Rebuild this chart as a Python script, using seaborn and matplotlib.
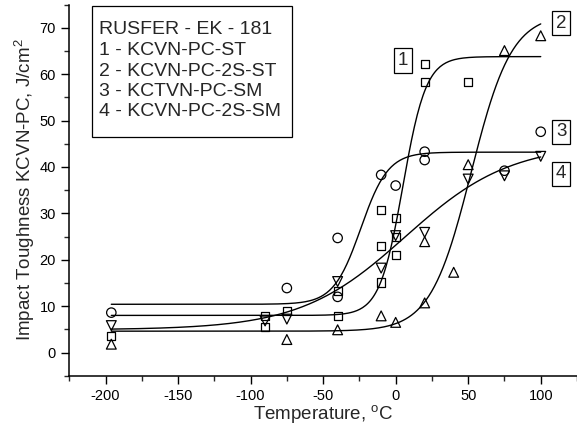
import numpy as np
import pandas as pd
import matplotlib
matplotlib.use("Agg")
import matplotlib.pyplot as plt
from matplotlib.ticker import MultipleLocator
from matplotlib.patches import Rectangle
import seaborn as sns

# measured points, temperature in C, toughness in J/cm2
t_st = [-196, -90, -90, -75, -40, -40, -10, -10, -10, 0, 0, 0, 20, 20, 50]
v_st = [3.6, 7.8, 5.5, 9.0, 7.9, 13.2, 30.8, 23.0, 15.1, 29.0, 25.0, 21.1, 62.2, 58.3, 58.3]

t_2s_st = [-196, -75, -40, -10, 0, 20, 20, 40, 50, 75, 100]
v_2s_st = [1.8, 2.8, 4.9, 7.9, 6.5, 10.7, 23.9, 17.3, 40.5, 65.1, 68.3]

t_sm = [-196, -75, -40, -40, -10, 0, 20, 20, 75, 100]
v_sm = [8.6, 13.9, 24.7, 12.0, 38.3, 36.0, 43.3, 41.5, 39.2, 47.6]

t_2s_sm = [-196, -90, -75, -40, -10, 0, 20, 50, 75, 100]
v_2s_sm = [5.8, 6.8, 7.2, 15.3, 18.2, 25.2, 25.9, 37.4, 38.1, 42.3]

# tanh fit parameters: lower shelf, upper shelf, T0, width
lower = [8.0, 4.6, 10.4, 4.9]
upper = [63.8, 73.0, 43.2, 45.0]
t0 = [5.0, 52.0, -24.0, 6.6]
width = [16.0, 28.0, 18.8, 72.5]

legend_lines = ["RUSFER - EK - 181", "1 - KCVN-PC-ST", "2 - KCVN-PC-2S-ST",
                "3 - KCTVN-PC-SM", "4 - KCVN-PC-2S-SM"]
box_labels = ["1", "2", "3", "4"]
box_t = [5, 114, 114, 114]
box_v = [63.0, 71.0, 47.6, 38.5]

sns.set_theme(style="ticks")
plt.rcParams["font.family"] = ["Liberation Sans", "DejaVu Sans"]
plt.rcParams["mathtext.fontset"] = "custom"
plt.rcParams["mathtext.rm"] = "Liberation Sans"
plt.rcParams["mathtext.it"] = "Liberation Sans"
plt.rcParams["axes.unicode_minus"] = False

W, H = 577, 425
fig = plt.figure(figsize=(W / 100, H / 100), dpi=100)
ax = fig.add_axes([0.120, 0.116, 0.880, 0.873])

tt = np.linspace(-196, 100, 300)
for i in range(4):
    b = (upper[i] - lower[i]) / 2
    curve = lower[i] + b * (1 + np.tanh((tt - t0[i]) / width[i]))
    sns.lineplot(x=tt, y=curve, color="black", lw=1.0, ax=ax)

series = [(t_st, v_st, "s", 34), (t_2s_st, v_2s_st, "^", 50),
          (t_sm, v_sm, "o", 46), (t_2s_sm, v_2s_sm, "v", 50)]
for t, v, m, s in series:
    df = pd.DataFrame({"T": t, "KCV": v})
    sns.scatterplot(data=df, x="T", y="KCV", marker=m, s=s, facecolors="none",
                    edgecolor="black", linewidth=0.9, ax=ax, zorder=3)

for lab, bt, bv in zip(box_labels, box_t, box_v):
    ax.text(bt, bv, lab, ha="center", va="center", fontsize=13.5,
            bbox=dict(boxstyle="square,pad=0.2", fc="white", ec="black", lw=0.9))

ax.set_xlim(-225, 125)
ax.set_ylim(-5, 75)
ax.xaxis.set_major_locator(MultipleLocator(50))
ax.xaxis.set_minor_locator(MultipleLocator(25))
ax.yaxis.set_major_locator(MultipleLocator(10))
ax.yaxis.set_minor_locator(MultipleLocator(5))
ax.tick_params(which="major", direction="out", length=6, width=1.0, labelsize=10.5, colors="black")
ax.tick_params(which="minor", direction="out", length=3.5, width=1.0)
sns.despine(ax=ax)
for sp in ["left", "bottom"]:
    ax.spines[sp].set_linewidth(1.1)
    ax.spines[sp].set_color("black")

ax.set_xlabel(r"Temperature, $^{\mathrm{o}}$C", fontsize=13.5, labelpad=0)
ax.set_ylabel(r"Impact Toughness KCVN-PC, J/cm$^{2}$", fontsize=13.5, labelpad=2)

# text box in the top left corner (figure pixels)
fig.patches.append(Rectangle((92 / W, 1 - 137 / H), 200 / W, 131 / H, transform=fig.transFigure,
                             fc="white", ec="black", lw=0.9, zorder=5))
for k, line in enumerate(legend_lines):
    fig.text(99 / W, 1 - (30 + 20.5 * k) / H, line, ha="left", va="center", fontsize=14, zorder=6)

fig.savefig("out.png", dpi=100)
